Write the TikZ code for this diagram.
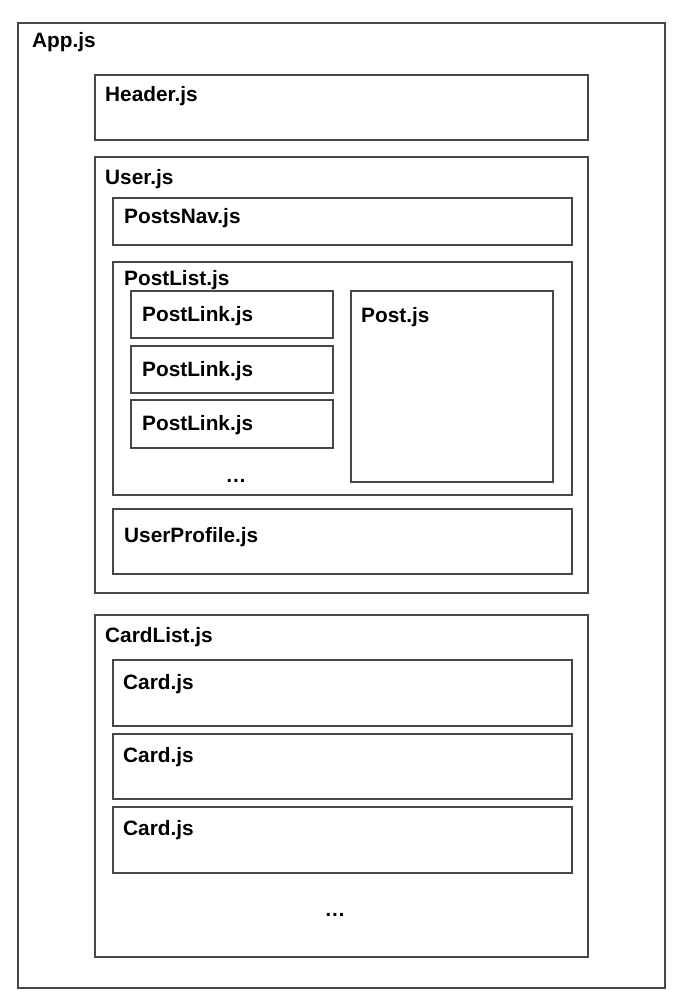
\documentclass[tikz,border=0pt]{standalone}
\usepackage{fontspec}
\setmainfont{Liberation Sans}
\begin{document}
\begin{tikzpicture}[x=1pt,y=-1pt,
  box/.style={draw=black!72, line width=1.05pt, fill=none, inner sep=0pt, outer sep=0pt, anchor=north west},
  lbl/.style={anchor=base west, inner sep=0pt, font=\fontsize{20.8}{24}\selectfont\bfseries},
  dots/.style={anchor=base, inner sep=0pt, font=\fontsize{20.8}{24}\selectfont\bfseries}]
\useasboundingbox (0,0) rectangle (683,1000);
\newcommand{\boxat}[5]{\node[box, minimum width=#4-#2, minimum height=#5-#3] (#1) at (#2,#3) {};}
\boxat{app}{18}{23}{665}{988}
\boxat{header}{95}{75}{588}{140}
\boxat{user}{95}{157}{588}{593}
\boxat{postsnav}{113}{198}{572}{245}
\boxat{postlist}{113}{262}{572}{495}
\boxat{postlinka}{131}{291}{333}{338}
\boxat{postlinkb}{131}{346}{333}{393}
\boxat{postlinkc}{131}{400}{333}{448}
\boxat{post}{351}{291}{553}{482}
\boxat{userprofile}{113}{509}{572}{574}
\boxat{cardlist}{95}{615}{588}{957}
\boxat{carda}{113}{660}{572}{726}
\boxat{cardb}{113}{734}{572}{799}
\boxat{cardc}{113}{807}{572}{873}
\node[lbl] (tapp) at (32,48) {App.js};
\node[lbl] (theader) at (105,102) {Header.js};
\node[lbl] (tuser) at (105,185) {User.js};
\node[lbl] (tpostsnav) at (124,223) {PostsNav.js};
\node[lbl] (tpostlist) at (124,285) {PostList.js};
\node[lbl] (tpostlinka) at (142,321) {PostLink.js};
\node[lbl] (tpostlinkb) at (142,376) {PostLink.js};
\node[lbl] (tpostlinkc) at (142,430) {PostLink.js};
\node[lbl] (tpost) at (361,322) {Post.js};
\node[dots] (tdotsa) at (236,482) {…};
\node[lbl] (tuserprofile) at (124,542) {UserProfile.js};
\node[lbl] (tcardlist) at (105,642) {CardList.js};
\node[lbl] (tcarda) at (123,689) {Card.js};
\node[lbl] (tcardb) at (123,762) {Card.js};
\node[lbl] (tcardc) at (123,835) {Card.js};
\node[dots] (tdotsb) at (335,916) {…};
\end{tikzpicture}
\end{document}
